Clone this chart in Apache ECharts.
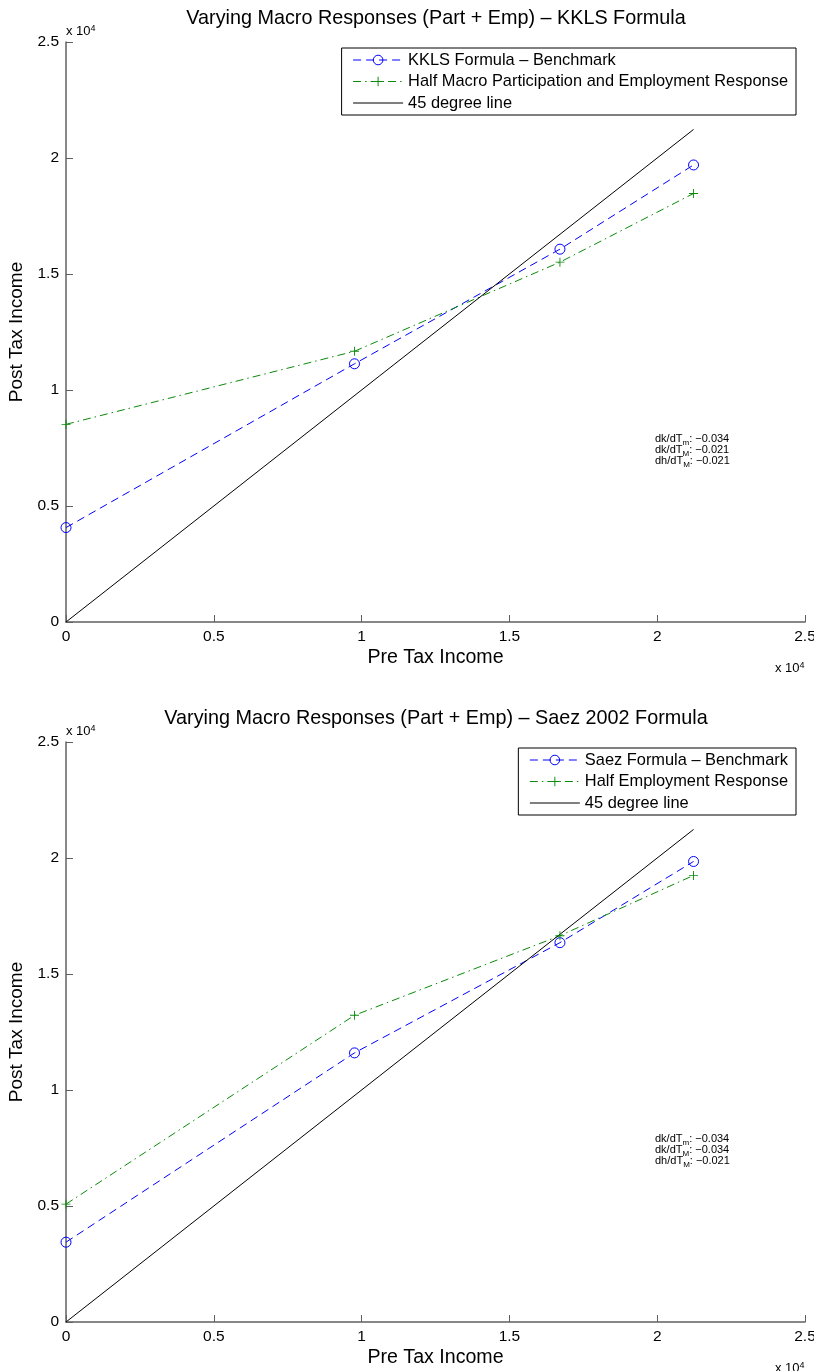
<!DOCTYPE html>
<html>
<head>
<meta charset="utf-8">
<script src="https://cdn.jsdelivr.net/npm/echarts@6/dist/echarts.min.js"></script>
<style>
html,body{margin:0;padding:0;background:#fff;overflow:hidden;}
#chart{width:814px;height:1371px;}
</style>
</head>
<body>
<div id="chart"></div>
<script>
// ---- data ----
const xVals = [0, 9760, 16710, 21230];
const kklsBenchmark = [4070, 11130, 16070, 19700];
const kklsHalfMacro = [8520, 11670, 15510, 18470];
const saezBenchmark = [3440, 11600, 16350, 19850];
const saezHalfEmp = [5080, 13220, 16650, 19250];
const line45X = [0, 21230];
const line45Y = [0, 21230];
const tickLabels = ['0', '0.5', '1', '1.5', '2', '2.5'];
const titles = ['Varying Macro Responses (Part + Emp) \u2013 KKLS Formula',
                'Varying Macro Responses (Part + Emp) \u2013 Saez 2002 Formula'];
const namesTop = ['KKLS Formula \u2013 Benchmark', 'Half Macro Participation and Employment Response', '45 degree line'];
const namesBot = ['Saez Formula \u2013 Benchmark', 'Half Employment Response', '45 degree line'];
const annotTop = [['dk/dT', 'm', ': \u22120.034'], ['dk/dT', 'M', ': \u22120.021'], ['dh/dT', 'M', ': \u22120.021']];
const annotBot = [['dk/dT', 'm', ': \u22120.034'], ['dk/dT', 'M', ': \u22120.034'], ['dh/dT', 'M', ': \u22120.021']];

const FONT = '"Liberation Sans", Arial, Helvetica, sans-serif';
const pair = (xs, ys) => xs.map((x, i) => [x, ys[i]]);
const plusPath = 'path://M0,4.5H10V5.5H0Z M4.5,0H5.5V10H4.5Z';
const BLUE = '#0000ff', GREEN = '#0a8a0a';
const AXC = '#606060';

const mctx = document.createElement('canvas').getContext('2d');
function textW(t, size) { mctx.font = size + 'px ' + FONT; return mctx.measureText(t).width; }

function axis(idx, isX, name) {
  return {
    type: 'value', gridIndex: idx, min: 0, max: 25000, interval: 5000,
    name: name, nameLocation: 'middle', nameGap: isX ? 26 : 34,
    nameTextStyle: {fontFamily: FONT, fontSize: isX ? 19.6 : 19, color: '#000'},
    axisLine: {show: true, onZero: false, lineStyle: {color: AXC, width: 1.5}},
    axisTick: {show: true, inside: true, length: 7, lineStyle: {color: AXC, width: 1}},
    splitLine: {show: false},
    axisLabel: {fontFamily: FONT, fontSize: 15.5, color: '#000', margin: 7,
      formatter: v => tickLabels[Math.round(v / 5000)]}
  };
}

function seriesFor(idx, names, bench, half) {
  return [
    {name: names[0], type: 'line', xAxisIndex: idx, yAxisIndex: idx, data: pair(xVals, bench),
     symbol: 'circle', symbolSize: 10, itemStyle: {color: 'rgba(0,0,0,0)', borderColor: BLUE, borderWidth: 1},
     lineStyle: {color: BLUE, width: 1, type: [8, 5]}, animation: false},
    {name: names[1], type: 'line', xAxisIndex: idx, yAxisIndex: idx, data: pair(xVals, half),
     symbol: plusPath, symbolSize: 9, itemStyle: {color: GREEN},
     lineStyle: {color: GREEN, width: 1, type: [8, 4, 1.5, 4]}, animation: false},
    {name: names[2], type: 'line', xAxisIndex: idx, yAxisIndex: idx, data: pair(line45X, line45Y),
     symbol: 'none', lineStyle: {color: '#000', width: 1, type: 'solid'}, itemStyle: {color: '#000'}, animation: false}
  ];
}

function legendFor(names, top) {
  return {
    data: [
      {name: names[0], itemStyle: {color: 'rgba(0,0,0,0)', borderColor: BLUE, borderWidth: 1}, lineStyle: {width: 1}},
      {name: names[1], itemStyle: {color: GREEN, borderWidth: 0}, lineStyle: {width: 1}},
      {name: names[2], itemStyle: {opacity: 0}, lineStyle: {width: 1}}
    ],
    orient: 'vertical', right: 18, top: top,
    backgroundColor: '#fff', borderColor: '#000', borderWidth: 1, borderRadius: 0,
    padding: [4, 8, 4, 11], itemGap: 5.5, itemWidth: 50, itemHeight: 12,
    selectedMode: false,
    textStyle: {fontFamily: FONT, fontSize: 16.4, color: '#000', lineHeight: 16}
  };
}

// annotation block: main text, subscript lowered, then value
function annot(lines, x, y) {
  const els = [];
  const MS = 11, SS = 8;
  lines.forEach((l, i) => {
    const cy = y + i * 11;
    const w0 = textW(l[0], MS), w1 = textW(l[1], SS);
    els.push({type: 'text', x: x, y: cy, z: 100,
      style: {text: l[0], fill: '#000', font: MS + 'px ' + FONT, textVerticalAlign: 'middle'}});
    els.push({type: 'text', x: x + w0, y: cy + 4, z: 100,
      style: {text: l[1], fill: '#000', font: SS + 'px ' + FONT, textVerticalAlign: 'middle'}});
    els.push({type: 'text', x: x + w0 + w1, y: cy, z: 100,
      style: {text: l[2], fill: '#000', font: MS + 'px ' + FONT, textVerticalAlign: 'middle'}});
  });
  return els;
}

function expLabel(x, y) {
  return {type: 'text', left: x, top: y, z: 100,
    style: {text: '{a|x 10}{p|4}', fill: '#000',
      rich: {a: {fontSize: 13, fontFamily: FONT, lineHeight: 14, fill: '#000'},
             p: {fontSize: 9, fontFamily: FONT, lineHeight: 4, verticalAlign: 'top', fill: '#000'}}}};
}

function titleText(t, y) {
  return {type: 'text', x: 436, y: y, z: 100,
    style: {text: t, fill: '#000', font: '19.8px ' + FONT, textAlign: 'center', textVerticalAlign: 'middle'}};
}

const chart = echarts.init(document.getElementById('chart'), null, {renderer: 'canvas'});
chart.setOption({
  backgroundColor: '#fff',
  animation: false,
  grid: [
    {left: 66, top: 42, width: 739, height: 580, containLabel: false, outerBoundsMode: 'none'},
    {left: 66, top: 742, width: 739, height: 580, containLabel: false, outerBoundsMode: 'none'}
  ],
  xAxis: [axis(0, true, 'Pre Tax Income'), axis(1, true, 'Pre Tax Income')],
  yAxis: [axis(0, false, 'Post Tax Income'), axis(1, false, 'Post Tax Income')],
  legend: [legendFor(namesTop, 48), legendFor(namesBot, 748)],
  series: [].concat(seriesFor(0, namesTop, kklsBenchmark, kklsHalfMacro),
                    seriesFor(1, namesBot, saezBenchmark, saezHalfEmp)),
  graphic: [
    titleText(titles[0], 19), titleText(titles[1], 719),
    expLabel(66, 24), expLabel(66, 724), expLabel(775, 661), expLabel(775, 1361)
  ].concat(annot(annotTop, 655, 439), annot(annotBot, 655, 1139))
});
</script>
</body>
</html>
